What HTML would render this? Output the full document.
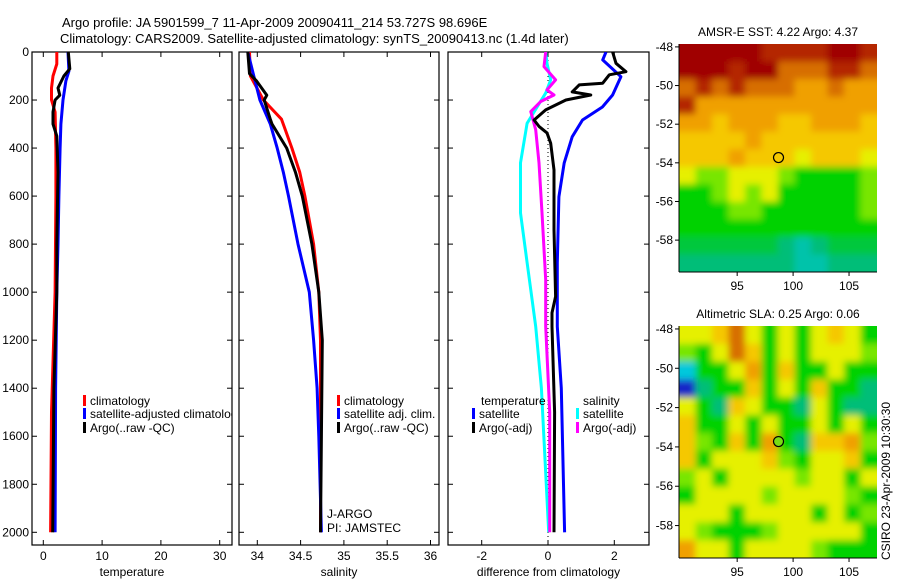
<!DOCTYPE html>
<html><head><meta charset="utf-8">
<style>
html,body{margin:0;padding:0;background:#fff;}
svg{display:block;font-family:"Liberation Sans",sans-serif;}
text{font-size:12px;fill:#000;}
</style></head>
<body>
<svg id="fig" width="900" height="580" viewBox="0 0 900 580" xmlns="http://www.w3.org/2000/svg">
<text x="62" y="27" style="font-size:13px">Argo profile: JA 5901599_7 11-Apr-2009 20090411_214 53.727S 98.696E</text>
<text x="60" y="43" style="font-size:13px">Climatology: CARS2009. Satellite-adjusted climatology: synTS_20090413.nc (1.4d later)</text>
<g id="layer"></g>
</svg>
<script>
// ---------- data ----------
const tempDepthClim = [0,50,100,150,200,250,400,600,1000,1500,2000];
const tempClim      = [2.3,2.3,1.65,1.4,1.4,2.0,2.15,2.15,2.0,1.4,1.25];
const tempDepthSat  = [0,80,120,200,300,400,600,800,1000,1400,2000];
const tempSat       = [4.2,4.35,3.85,3.35,3.0,2.85,2.65,2.5,2.3,2.1,2.0];
const tempDepthArgo = [0,70,100,150,180,200,250,300,350,500,800,1000,1400,2000];
const tempArgo      = [4.25,4.5,3.5,2.5,2.8,2.0,1.65,1.65,2.3,2.5,2.3,2.3,1.8,1.6];

const salDepthClim = [0,100,200,280,400,500,600,800,1000,1200,2000];
const salClim      = [33.91,33.92,34.07,34.28,34.40,34.49,34.55,34.65,34.71,34.73,34.73];
const salDepthSat  = [0,100,200,300,400,500,600,800,1000,1200,1400,1600,2000];
const salSat       = [33.89,33.96,34.03,34.15,34.23,34.30,34.36,34.47,34.60,34.65,34.69,34.71,34.74];
const salDepthArgo = [0,90,120,180,200,280,300,400,500,600,800,1000,1200,2000];
const salArgo      = [33.89,33.91,33.99,34.11,34.08,34.15,34.17,34.34,34.44,34.52,34.63,34.71,34.75,34.73];

const diffDepthTSat = [0,33,103,179,229,283,353,462,603,877,1143,1400,2000];
const diffTSat      = [1.75,1.65,2.2,1.95,1.64,1.04,0.73,0.49,0.33,0.28,0.28,0.4,0.5];
const diffDepthTArgo= [0,47,82,95,130,137,166,179,200,241,283,310,337,380,491,740,1018,1086,1143,1500,2000];
const diffTArgo     = [1.95,2.05,2.35,1.85,1.65,0.94,0.73,1.29,0.54,-0.07,-0.42,-0.27,-0.03,0.08,0.18,0.18,0.23,0.12,0.12,0.2,0.18];
const diffDepthSArgo= [0,61,116,158,179,206,248,324,462,670,948,1143,1500,2000];
const diffSArgo     = [-0.07,-0.12,0.23,-0.03,0.18,-0.22,-0.52,-0.37,-0.27,-0.18,-0.07,-0.07,0.05,0.05];
const diffDepthSSat = [0,47,116,171,229,297,462,670,877,1143,1400,2000];
const diffSSat      = [-0.07,-0.03,0.08,-0.07,-0.33,-0.63,-0.83,-0.83,-0.63,-0.37,-0.2,0.02];

const depthTicks = [0,200,400,600,800,1000,1200,1400,1600,1800,2000];
const tempTicks = [0,10,20,30];
const salTicks = [34,34.5,35,35.5,36];
const diffTicks = [-2,0,2];
const lonTicks = [95,100,105];
const latTicks = [-48,-50,-52,-54,-56,-58];

const sstGrid = [
[10,10,10,10,10,9,9,9,9,10,10,9],
[10,10,10,9,10,10,8,8,8,9,9,8],
[8,9,8,9,8,8,8,7,7,8,7,7],
[9,7,7,7,7,7,7,7,7,7,7,7],
[7,7,6,7,7,7,6,6,7,7,7,6],
[6,6,6,6,7,6,6,6,6,6,6,6],
[6,6,6,7,6,6,6,5,6,6,6,5],
[5,4,4,5,5,5,4,3,3,3,3,4],
[3,3,4,5,4,5,3,3,3,3,3,4],
[3,3,3,4,4,3,3,3,3,3,3,4],
[3,3,3,3,3,3,3,3,3,3,3,3],
[2.5,2.5,2.5,2.5,2.5,2.5,2,1.5,2,2.5,2.5,2.5],
[2,2,2,2,2,2,2,1.5,1.5,2,2,2]];
const slaGrid = [
[5,5,6,8,5,3,5,3,5,6,5,3],
[4,3,5,8,6,3,5,3,5,5,5,4],
[1,3,3,5,7,3,6,3,3,5,3,3],
[0,2,3,3,6,3,5,3,6,3,3,2],
[5,3,2,6,5,3,3,2,5,3,2,2],
[6,3,3,5,3,5,3,3,5,3,5,3],
[6,4,3,6,3,7,3,2,6,6,7,4],
[6,3,5,5,5,6,4,3,5,5,6,3],
[4,5,3,5,5,5,5,4,5,5,3,5],
[3,5,5,5,5,4,5,5,5,5,4,3],
[5,5,5,3,5,5,5,5,3,5,3,4],
[5,4,3,3,3,4,5,5,5,5,5,3],
[7,5,5,3,5,5,5,5,4,3,3,3]];
const floatLon = 98.696, floatLat = -53.727;

// ---------- helpers ----------
const NS='http://www.w3.org/2000/svg';
const layer=document.getElementById('layer');
function mk(tag,attrs,parent){const e=document.createElementNS(NS,tag);for(const k in attrs)e.setAttribute(k,attrs[k]);(parent||layer).appendChild(e);return e;}
function lin(d0,d1,r0,r1){return v=>r0+(v-d0)*(r1-r0)/(d1-d0);}
const yDepth = lin(0,2000,52,532.3);
const xTemp = lin(0,30,43.3,219.7);
const xSal = lin(34,36,257.3,430.5);
const xDiff = lin(-2,2,481.7,614.3);
const PT=52, PB=545;

function axesBox(name,x0,x1,xs,ticks,fmt,label,leftLabels){
  const g=mk('g',{});
  
  
  const r=mk('rect',{x:x0,y:PT,width:x1-x0,height:PB-PT,fill:'none',stroke:'#000','stroke-width':1.2},g);
  
  
  ticks.forEach(t=>{
    const x=xs(t);
    mk('line',{x1:x,x2:x,y1:PB,y2:PB-5,stroke:'#000'},g);
    mk('line',{x1:x,x2:x,y1:PT,y2:PT+5,stroke:'#000'},g);
    const tx=mk('text',{x:x,y:PB+15,'text-anchor':'middle'},g);
    tx.textContent=fmt(t);
    
    
  });
  depthTicks.forEach(d=>{
    const y=yDepth(d);
    mk('line',{x1:x0,x2:x0+5,y1:y,y2:y,stroke:'#000'},g);
    mk('line',{x1:x1,x2:x1-5,y1:y,y2:y,stroke:'#000'},g);
    if(leftLabels){
      const tx=mk('text',{x:x0-3,y:y+4,'text-anchor':'end'},g);
      tx.textContent=d;
      
      
    }
  });
  const lb=mk('text',{x:(x0+x1)/2,y:576,'text-anchor':'middle'},g);
  lb.textContent=label;
  
  
}
function profile(name,depths,vals,xs,color,clipId){
  const pts=depths.map((d,i)=>xs(vals[i]).toFixed(1)+','+yDepth(d).toFixed(1)).join(' ');
  const p=mk('polyline',{points:pts,fill:'none',stroke:color,'stroke-width':3,'stroke-linejoin':'round','clip-path':'url(#'+clipId+')'});
  
  
}
function legendRow(x,y,color,label,name,clip){
  const g=mk('g',clip?{'clip-path':'url(#'+clip+')'}:{});
  
  
  if(color) mk('rect',{x:x,y:y-10,width:3,height:11,fill:color},g);
  const t=mk('text',{x:x+7,y:y},g); t.textContent=label;
}
const defs=mk('defs',{});
[['c1',32,232],['c2',239,439],['c3',448,649]].forEach(c=>{
  const cp=mk('clipPath',{id:c[0]},defs);mk('rect',{x:c[1],y:PT,width:c[2]-c[1],height:PB-PT},cp);
});
const flt=mk('filter',{id:'smooth',x:'-5%',y:'-5%',width:'110%',height:'110%'},defs);
mk('feGaussianBlur',{stdDeviation:3.5},flt);

// ---------- panel 1 ----------
axesBox('temperature-axes',32,232,xTemp,tempTicks,t=>t,'temperature',true);
profile('temp-climatology-line',tempDepthClim,tempClim,xTemp,'#f00','c1');
profile('temp-satellite-line',tempDepthSat,tempSat,xTemp,'#00f','c1');
profile('temp-argo-line',tempDepthArgo,tempArgo,xTemp,'#000','c1');
legendRow(83,405,'#f00','climatology','legend-climatology');
legendRow(83,418,'#00f','satellite-adjusted climatology','legend-satellite-adjusted','c1');
legendRow(83,432,'#000','Argo(..raw -QC)','legend-argo');

// ---------- panel 2 ----------
axesBox('salinity-axes',239,439,xSal,salTicks,t=>t,'salinity',false);
profile('sal-climatology-line',salDepthClim,salClim,xSal,'#f00','c2');
profile('sal-satellite-line',salDepthSat,salSat,xSal,'#00f','c2');
profile('sal-argo-line',salDepthArgo,salArgo,xSal,'#000','c2');
legendRow(337,405,'#f00','climatology','legend-sal-climatology');
legendRow(337,418,'#00f','satellite adj. clim.','legend-sal-satellite');
legendRow(337,432,'#000','Argo(..raw -QC)','legend-sal-argo');
legendRow(320,518,null,'J-ARGO','label-j-argo');
legendRow(320,532,null,'PI: JAMSTEC','label-pi');

// ---------- panel 3 ----------
axesBox('difference-axes',448,649,xDiff,diffTicks,t=>t,'difference from climatology',false);
const zl=mk('line',{x1:xDiff(0),x2:xDiff(0),y1:PT,y2:PB,stroke:'#000','stroke-dasharray':'1,3'});


profile('diff-temp-satellite-line',diffDepthTSat,diffTSat,xDiff,'#00f','c3');
profile('diff-sal-satellite-line',diffDepthSSat,diffSSat,xDiff,'#0ff','c3');
profile('diff-sal-argo-line',diffDepthSArgo,diffSArgo,xDiff,'#f0f','c3');
profile('diff-temp-argo-line',diffDepthTArgo,diffTArgo,xDiff,'#000','c3');
legendRow(474,405,null,'temperature','legend-temperature-heading');
legendRow(472,418,'#00f','satellite','legend-temp-satellite');
legendRow(472,432,'#000','Argo(-adj)','legend-temp-argo');
legendRow(576,405,null,'salinity','legend-salinity-heading');
legendRow(576,418,'#0ff','satellite','legend-sal-sat');
legendRow(576,432,'#f0f','Argo(-adj)','legend-sal-argo2');

// ---------- maps ----------
const cmap=[[20,40,200],[0,200,220],[0,190,120],[0,210,0],[120,230,0],[230,240,0],[245,200,0],[240,160,0],[215,110,0],[180,40,0],[160,0,0]];
function col(v){const i=Math.max(0,Math.min(9.999,v));const a=Math.floor(i),f=i-a;const c0=cmap[a],c1=cmap[a+1];
  return 'rgb('+c0.map((c,k)=>Math.round(c+(c1[k]-c)*f)).join(',')+')';}
let mapCount=0;
function drawMap(name,grid,top,bottom,title,filledDot){
  const L=679,R=877,lonA=89.8,lonB=107.5,latA=-47.85,latB=-59.65;
  const xs=lin(lonA,lonB,L,R), ys=lin(latA,latB,top,bottom);
  const cid='mapclip'+(mapCount++);
  const cp=mk('clipPath',{id:cid},defs);mk('rect',{x:L,y:top,width:R-L,height:bottom-top},cp);
  const g=mk('g',{});
  
  
  const outer=mk('g',{'clip-path':'url(#'+cid+')'},g);
  const cells=mk('g',{filter:'url(#smooth)'},outer);
  const rows=grid.length, cols=grid[0].length;
  const dLon=(lonB-lonA)/cols, dLat=(latB-latA)/rows;
  grid.forEach((row,r)=>row.forEach((v,c)=>{
    let x0=xs(lonA+c*dLon),x1=xs(lonA+(c+1)*dLon),y0=ys(latA+r*dLat),y1=ys(latA+(r+1)*dLat);
    if(c===0)x0-=10; if(c===cols-1)x1+=10; if(r===0)y0-=10; if(r===rows-1)y1+=10;
    const cell=mk('rect',{x:x0.toFixed(2),y:y0.toFixed(2),width:(x1-x0+0.6).toFixed(2),height:(y1-y0+0.6).toFixed(2),fill:col(v)},cells);
    
    
  }));
  mk('line',{x1:L,x2:R,y1:bottom,y2:bottom,stroke:'#000'},g);
  mk('line',{x1:L,x2:L,y1:top,y2:bottom,stroke:'#000'},g);
  lonTicks.forEach(t=>{const x=xs(t);mk('line',{x1:x,x2:x,y1:bottom,y2:bottom+4,stroke:'#000'},g);
    const tx=mk('text',{x:x,y:bottom+18,'text-anchor':'middle'},g);tx.textContent=t;});
  latTicks.forEach(t=>{const y=ys(t);mk('line',{x1:L-4,x2:L,y1:y,y2:y,stroke:'#000'},g);
    const tx=mk('text',{x:L-6,y:y+4,'text-anchor':'end'},g);tx.textContent=t;});
  const tt=mk('text',{x:(L+R)/2,y:top-8,'text-anchor':'middle'},g);tt.textContent=title;
  
  
  const dot=mk('circle',{cx:xs(floatLon),cy:ys(floatLat),r:5,fill:filledDot?'rgb(120,220,20)':'none',stroke:'#000','stroke-width':1.2},g);
  
  
}
drawMap('sst-map',sstGrid,44,272,'AMSR-E SST: 4.22 Argo: 4.37',false);
drawMap('sla-map',slaGrid,326,558,'Altimetric SLA: 0.25 Argo: 0.06',true);
const cs=mk('text',{x:0,y:0,transform:'translate(890,560) rotate(-90)'});
cs.textContent='CSIRO 23-Apr-2009 10:30:30';


</script>
</body></html>
